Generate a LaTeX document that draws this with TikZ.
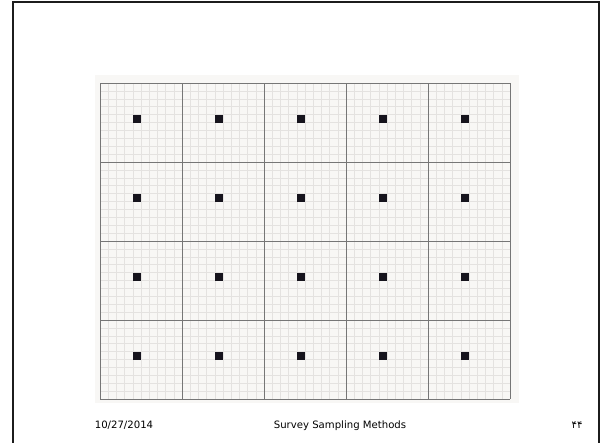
\documentclass[tikz,border=0pt]{standalone}
\usepackage{fontspec}
\setmainfont{DejaVu Sans}
\newfontfamily\arabicfont[Script=Arabic]{DejaVu Sans}
\TeXXeTstate=1
\usepackage{tikz}
\usetikzlibrary{positioning}
\definecolor{FrameInk}{HTML}{1C1C1C}
\definecolor{PaperGray}{HTML}{F8F7F5}
\definecolor{FineGrid}{HTML}{E4E2E0}
\definecolor{CoarseGrid}{HTML}{767676}
\definecolor{DotInk}{HTML}{16141D}

\begin{document}
\begin{tikzpicture}[x=0.025cm,y=-0.025cm,
fine/.style={draw=FineGrid,line width=0.4pt},
coarse/.style={draw=CoarseGrid,line width=0.6pt},
dot/.style={fill=DotInk,minimum width=2.05mm,minimum height=1.98mm,inner sep=0pt},
foot/.style={font=\fontsize{7.2}{8}\selectfont,text=black,inner sep=0pt,anchor=base}
]
\useasboundingbox (0,0) rectangle (602,442);
% slide frame
\begin{scope}
\clip (0,0) rectangle (602,442);
\draw[FrameInk,line width=1.9pt] (13,460) -- (13,2) -- (599,2) -- (599,460);
\end{scope}
% scanned grid paper
\fill[PaperGray] (95,75) rectangle (519,403);
\foreach \i in {0,...,50}
  \draw[fine] (100+\i*8.2,83) -- (100+\i*8.2,399);
\foreach \j in {0,...,40}
  \draw[fine] (100,83+\j*7.9) -- (510,83+\j*7.9);
\foreach \i in {0,...,5}
  \draw[coarse] (100+\i*82,83) -- (100+\i*82,399);
\foreach \j in {0,...,4}
  \draw[coarse] (100,83+\j*79) -- (510,83+\j*79);
% one sampled point per block
\foreach \r in {0,...,3}
  \foreach \c in {0,...,4}
    \node[dot] (d-\r-\c) at (100+\c*82+36.9,83+\r*79+35.55) {};
% footer
\node[foot] (date) at (124,428) {10/27/2014};
\node[foot] (title) at (340,428) {Survey Sampling Methods};
\node[foot] (page) at (577,428) {\arabicfont\beginR ۴۴\endR};
\end{tikzpicture}
\end{document}
